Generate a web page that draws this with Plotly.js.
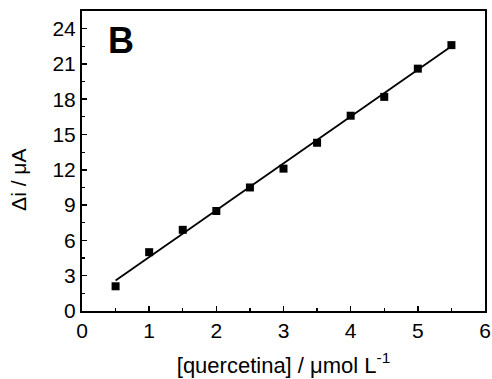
<!DOCTYPE html>
<html>
<head>
<meta charset="utf-8">
<script src="https://cdn.plot.ly/plotly-3.0.1.min.js"></script>
<style>html,body{margin:0;padding:0;background:#fff;}#chart{width:492px;height:379px;}</style>
</head>
<body>
<div id="chart"></div>
<script>
const concentration = [0.5, 1.0, 1.5, 2.0, 2.5, 3.0, 3.5, 4.0, 4.5, 5.0, 5.5];
const deltaI = [2.1, 5.0, 6.9, 8.5, 10.5, 12.1, 14.3, 16.6, 18.2, 20.6, 22.6];
const fitX = [0.5, 5.5];
const fitY = [2.6, 22.5];
const xTickVals = [0, 1, 2, 3, 4, 5, 6];
const yTickVals = [0, 3, 6, 9, 12, 15, 18, 21, 24];

const font = 'Liberation Sans, Arial, sans-serif';

const traces = [
  {x: fitX, y: fitY, mode: 'lines', line: {color: '#000', width: 1.8}, hoverinfo: 'skip'},
  {x: concentration, y: deltaI, mode: 'markers', marker: {symbol: 'square', size: 8, color: '#000'}}
];

const axisCommon = {
  showgrid: false, zeroline: false, showline: true, linecolor: '#000', linewidth: 2,
  mirror: true, ticks: 'inside', ticklen: 5, tickwidth: 1.5, tickcolor: '#000',
  tickfont: {family: font, size: 21, color: '#000'}
};

const layout = {
  width: 492, height: 379,
  margin: {l: 82, r: 7, t: 11, b: 68},
  paper_bgcolor: '#fff', plot_bgcolor: '#fff',
  showlegend: false,
  font: {family: font, color: '#000'},
  xaxis: Object.assign({}, axisCommon, {
    range: [0, 6], tickvals: xTickVals, ticktext: xTickVals.map(String),
    minor: {dtick: 0.5, ticks: 'inside', ticklen: 3, tickwidth: 1.2, tickcolor: '#000'},
    title: {text: '[quercetina] / μmol L<sup>-1</sup>', font: {family: font, size: 22}, standoff: 16}
  }),
  yaxis: Object.assign({}, axisCommon, {
    range: [0, 25.5], tickvals: yTickVals, ticktext: yTickVals.map(String),
    minor: {dtick: 1.5, ticks: 'inside', ticklen: 3, tickwidth: 1.2, tickcolor: '#000'}
  }),
  annotations: [
    {
      text: 'Δi / μA', xref: 'paper', yref: 'paper', x: 0, y: 0.437,
      xanchor: 'center', yanchor: 'middle', xshift: -63, textangle: -90, showarrow: false,
      font: {family: font, size: 21, color: '#000'}
    },
    {
      text: '<b>B</b>', xref: 'paper', yref: 'paper', x: 0.06, y: 0.978,
      xanchor: 'left', yanchor: 'top', showarrow: false,
      font: {family: font, size: 36, color: '#000'}
    }
  ]
};

Plotly.newPlot('chart', traces, layout, {displayModeBar: false, staticPlot: true});
</script>
</body>
</html>
